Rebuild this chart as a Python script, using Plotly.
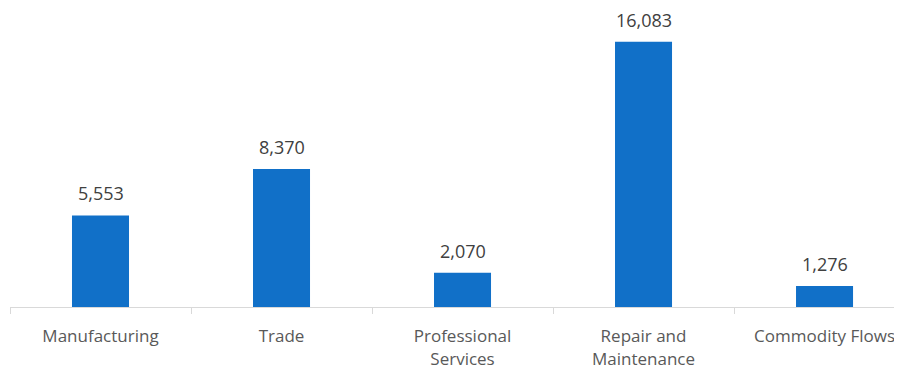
import plotly.graph_objects as go

# Chart data
categories = ["Manufacturing", "Trade", "Professional<br>Services",
              "Repair and<br>Maintenance", "Commodity Flows"]
values = [5553, 8370, 2070, 16083, 1276]
value_labels = [f"{v:,}" for v in values]

fig = go.Figure()
fig.add_trace(
    go.Bar(
        x=categories,
        y=values,
        marker=dict(color="#1170C8", line=dict(width=0)),
        width=0.315,
        hoverinfo="x+y",
    )
)

# value labels above the bars
for cat, val, lab in zip(categories, values, value_labels):
    fig.add_annotation(
        x=cat, y=val, text=lab,
        showarrow=False, yanchor="bottom", yshift=8,
        font=dict(size=18, color="#404040"),
    )

# page body has an 8px margin, so the figure is shrunk to fit the window
fig.update_layout(
    width=894,
    height=364,
    margin=dict(l=2, r=0, t=2, b=65),
    paper_bgcolor="white",
    plot_bgcolor="white",
    showlegend=False,
    font=dict(family="Open Sans, Roboto, sans-serif", size=18, color="#595959"),
)

fig.update_xaxes(
    range=[-0.5, 4.428],
    automargin=False,
    tickson="boundaries",
    ticks="outside",
    ticklen=6,
    tickcolor="#d9d9d9",
    showline=True,
    linecolor="#d9d9d9",
    linewidth=1,
    ticklabelstandoff=14,
    tickfont=dict(size=17, color="#595959"),
    showgrid=False,
)
fig.update_yaxes(
    range=[0, 18000],
    visible=False,
    showgrid=False,
)

fig.write_html("out.html")
